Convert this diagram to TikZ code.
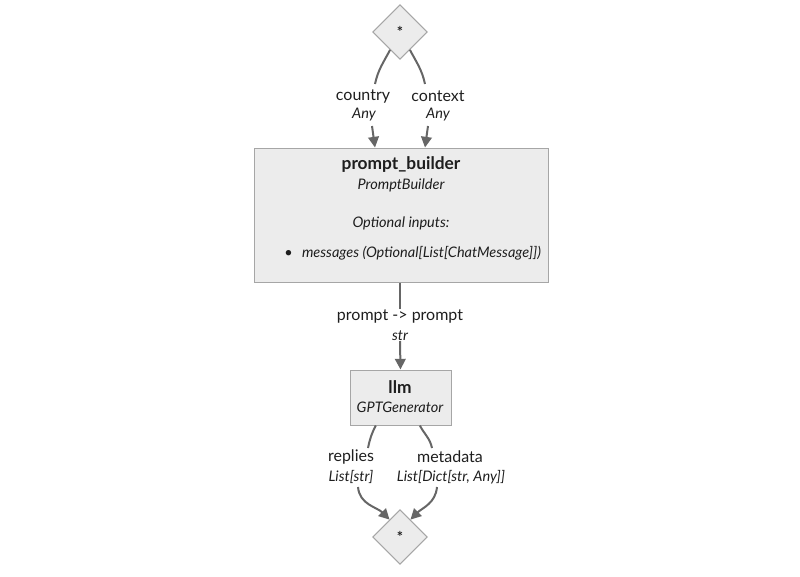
\documentclass[tikz,border=0pt]{standalone}
\usepackage{fontspec}
\setmainfont{Lato}
\usetikzlibrary{shapes.geometric,arrows.meta}
\definecolor{nodefill}{HTML}{ECECEC}
\definecolor{nodeline}{HTML}{A6A6A6}
\definecolor{edgecol}{HTML}{666666}
\definecolor{txtcol}{HTML}{1E1E1E}
\begin{document}
\begin{tikzpicture}[x=0.75pt,y=-0.75pt,
    every node/.style={text=txtcol},
    comp/.style={draw=nodeline,fill=nodefill,line width=0.75pt,rectangle,inner sep=0pt},
    junction/.style={draw=nodeline,fill=nodefill,line width=0.75pt,diamond,inner sep=0pt,
      minimum width=41pt,minimum height=41pt,font=\fontsize{11}{12}\selectfont\bfseries},
    title/.style={font=\fontsize{13}{15}\selectfont\bfseries,inner sep=0pt},
    kind/.style={font=\fontsize{10.9}{12}\selectfont\itshape,inner sep=0pt},
    port/.style={font=\fontsize{12}{14}\selectfont,inner sep=0pt},
    wire/.style={draw=edgecol,line width=1.5pt},
    flow/.style={wire,-{Triangle[length=8pt,width=8pt]}}]
  \useasboundingbox (0,0) rectangle (800,576);

  % junctions and components
  \node[junction] (top) at (400,32) {*};
  \node[junction] (bottom) at (400,537) {*};
  \node[comp,minimum width=220.5pt,minimum height=100.5pt] (pb) at (401,215) {};
  \node[title] (pbname) at (401,165) {prompt\_builder};
  \node[kind] (pbkind) at (401,185) {PromptBuilder};
  \node[kind] (opt) at (401,223) {Optional inputs:};
  \node[kind,anchor=west] (optitem) at (284,253) {\textbullet\hspace{7pt}messages (Optional[List[ChatMessage]])};
  \node[comp,minimum width=75.75pt,minimum height=41.25pt] (llm) at (400.5,397.5) {};
  \node[title] (llmname) at (400,387) {llm};
  \node[kind] (llmkind) at (400,407) {GPTGenerator};

  % port labels
  \node[port] (country) at (363,96) {country};
  \node[kind] (countrytype) at (364,115) {Any};
  \node[port] (context) at (438,96) {context};
  \node[kind] (contexttype) at (438,115) {Any};
  \node[port] (prompt) at (400,316) {prompt -> prompt};
  \node[kind] (prompttype) at (400,336) {str};
  \node[port] (replies) at (351,457) {replies};
  \node[kind] (repliestype) at (351,477) {List[str]};
  \node[port] (metadata) at (450,457) {metadata};
  \node[kind] (metadatatype) at (451,477) {List[Dict[str, Any]]};

  \coordinate (c1a) at (375,84);
  \coordinate (c1b) at (372,126);
  \coordinate (c2a) at (425,84);
  \coordinate (c2b) at (428,126);
  \coordinate (r1a) at (368,448);
  \coordinate (r1b) at (358,487);
  \coordinate (m1a) at (432,448);
  \coordinate (m1b) at (437,487);

  % connectors
  \draw[wire] (top.-119) to[out=-118,in=78] (c1a);
  \draw[flow] (c1b) -- (pb.north -| c1a);
  \draw[wire] (top.-61) to[out=-62,in=102] (c2a);
  \draw[flow] (c2b) -- (pb.north -| c2a);
  \draw[wire] (pb.south -| prompt.north) -- (prompt.north);
  \draw[flow] (prompttype.south) -- (llm.north);
  \draw[wire] ([xshift=-18.5pt]llm.south) to[out=-118,in=78] (r1a);
  \draw[flow] (r1b) to[out=-85,in=135] (bottom.121);
  \draw[wire] ([xshift=14.5pt]llm.south) to[out=-62,in=102] (m1a);
  \draw[flow] (m1b) to[out=-95,in=45] (bottom.59);
\end{tikzpicture}
\end{document}
